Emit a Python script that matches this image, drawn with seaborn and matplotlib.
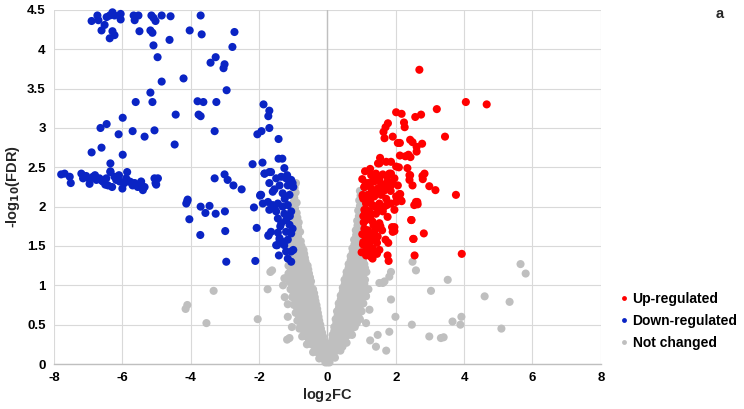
import matplotlib
matplotlib.use("Agg")
import matplotlib.pyplot as plt
import seaborn as sns
import pandas as pd

# ---------------- data ----------------
up_x = [2.69, 4.05, 4.66, 3.20, 2.01, 2.17, 2.57, 2.74, 1.77, 2.24, 2.26, 1.70, 1.64, 1.67, 1.91,
        3.44, 2.06, 2.12, 2.42, 2.49, 2.61, 2.77, 2.61, 1.54, 1.48, 1.72, 1.86, 2.12, 2.28, 2.37,
        2.43, 2.09, 2.34, 1.35, 2.42, 2.84, 2.40, 2.79, 2.49, 2.98, 3.16, 3.76, 3.93, 2.40, 2.78,
        2.11, 2.63, 2.54, 1.86, 2.01, 2.17, 2.45, 1.89, 1.96, 2.82, 2.51, 1.78, 2.55, 1.76, 1.79,
        1.32, 1.96, 1.28, 1.42, 1.62, 1.81, 1.32, 1.52, 1.76, 1.08, 1.28, 1.47, 1.67, 1.86, 1.18,
        1.37, 1.57, 1.72, 1.13, 1.32, 1.52, 1.23, 1.42, 1.62, 1.76, 1.13, 1.32, 1.52, 1.18, 1.37,
        1.13, 1.32, 1.47, 1.13, 1.32, 1.52, 1.13, 1.28, 1.08, 1.08, 1.03, 1.08, 1.03, 1.86, 1.96,
        2.06, 2.01, 2.13, 2.15, 1.74, 2.59, 2.64, 2.46, 1.96, 1.91, 2.52, 1.57, 1.37, 2.01, 1.52,
        1.20, 1.45, 1.65, 1.05, 1.25, 1.40, 1.60, 1.10, 1.22, 1.35, 1.55, 1.15, 1.30, 1.45, 1.05,
        1.20, 1.60, 1.70, 1.85, 1.02, 1.10, 1.25, 1.40, 1.05, 1.18, 1.00, 1.15, 1.28, 1.45, 1.90,
        1.02, 1.04, 1.06, 1.10, 1.12, 1.16, 1.22, 1.26, 1.35, 1.42, 1.50, 1.58, 1.66, 1.75]
up_y = [3.74, 3.33, 3.30, 3.24, 3.20, 3.18, 3.14, 3.17, 3.06, 3.07, 3.01, 3.01, 2.95, 2.87, 2.89,
        2.89, 2.81, 2.81, 2.85, 2.82, 2.76, 2.80, 2.70, 2.62, 2.55, 2.57, 2.57, 2.65, 2.64, 2.66,
        2.63, 2.50, 2.49, 2.40, 2.40, 2.42, 2.34, 2.35, 2.27, 2.26, 2.21, 2.15, 1.40, 2.40, 2.39,
        2.16, 2.06, 2.02, 2.04, 2.06, 2.07, 1.83, 1.74, 1.69, 1.66, 1.59, 1.54, 1.38, 1.38, 1.31,
        1.34, 1.96, 2.40, 2.42, 2.41, 2.42, 2.32, 2.34, 2.32, 2.25, 2.23, 2.23, 2.25, 2.27, 2.15,
        2.13, 2.15, 2.10, 2.04, 2.02, 2.04, 1.94, 1.91, 1.94, 1.87, 1.83, 1.81, 1.79, 1.70, 1.68,
        1.60, 1.58, 1.62, 1.49, 1.47, 1.45, 1.38, 1.36, 1.72, 1.96, 2.15, 2.25, 2.13, 2.42, 2.36,
        2.27, 2.13, 2.16, 2.08, 2.02, 2.06, 2.03, 1.83, 1.74, 1.68, 1.59, 2.29, 2.32, 2.51, 2.55,
        2.30, 2.20, 2.20, 2.10, 2.08, 2.00, 1.98, 1.88, 1.86, 1.76, 1.75, 1.65, 1.64, 1.54, 1.55,
        1.52, 1.70, 1.58, 2.20, 2.35, 2.45, 2.48, 2.38, 1.88, 1.90, 1.42, 1.44, 1.43, 1.40, 2.30,
        1.65, 1.52, 1.80, 1.92, 2.30, 1.95, 1.52, 1.88, 2.18, 1.72, 1.95, 2.18, 2.00, 2.38]

down_x = [-6.90, -6.73, -6.70, -6.61, -6.52, -6.46, -6.37, -6.29, -6.23, -6.29, -6.23, -6.37, -6.05,
          -6.05, -5.67, -5.53, -5.64, -5.50, -5.15, -5.09, -5.03, -5.18, -5.12, -4.85, -4.59, -5.09,
          -4.62, -4.97, -4.85, -5.18, -5.12, -5.61, -4.03, -3.71, -3.68, -4.21, -4.44, -4.47, -5.06,
          -5.35, -5.70, -5.99, -6.11, -6.46, -6.64, -6.61, -6.90, -5.99, -6.35, -6.35, -3.80, -3.63,
          -3.77, -3.71, -3.42, -3.27, -3.01, -3.04, -2.95, -3.25, -3.30, -2.72, -2.78, -3.30, -3.01,
          -2.92, -2.75, -2.51, -4.09, -1.87, -1.70, -1.73, -1.70, -1.93, -2.05, -1.43, -1.43, -1.32,
          -2.19, -1.90, -1.26, -1.84, -1.70, -1.96,
          -7.51, -4.13, -4.10, -4.04, -3.71, -3.57, -3.45, -3.27, -3.00, -2.99, -3.72, -2.96, -2.11,
          -2.07, -2.15, -1.97, -5.01, -1.73, -1.47, -1.40,
          -7.79, -7.69, -7.54, -7.20, -7.15, -7.06, -6.96, -6.86, -6.76, -6.96, -6.67, -6.57, -6.47,
          -6.42, -6.35, -6.30, -6.23, -6.18, -6.08, -6.00, -5.94, -5.89, -5.86, -5.79, -5.64, -5.55,
          -5.45, -5.40, -5.35, -5.06, -4.96, -5.03, -6.80, -6.60, -6.50, -6.10, -5.75, -5.70,
          -1.84, -1.65, -1.50, -1.35, -1.21, -1.06, -1.70, -1.40, -1.16, -1.60, -1.31, -1.11, -1.94,
          -1.89, -1.74, -1.60, -1.45, -1.31, -1.16, -1.06, -1.70, -1.50, -1.26, -1.21, -1.35, -1.11,
          -1.65, -1.72, -1.45, -1.21, -1.06, -1.40, -1.16, -1.50, -1.26, -1.21, -1.06, -1.16, -1.06,
          -1.55, -1.25, -1.45, -1.10, -1.38, -1.02, -1.30, -1.00, -1.55, -1.18, -1.00, -1.42, -1.02]
down_y = [4.36, 4.43, 4.37, 4.24, 4.31, 4.41, 4.43, 4.47, 4.43, 4.23, 4.18, 4.14, 4.45, 4.38, 4.43,
          4.43, 4.37, 4.23, 4.43, 4.40, 4.36, 4.24, 4.21, 4.43, 4.42, 4.05, 4.12, 3.90, 3.59, 3.45,
          3.33, 3.33, 4.24, 4.43, 4.19, 3.63, 3.17, 2.79, 2.97, 2.89, 2.96, 3.13, 2.92, 3.05, 3.00,
          2.75, 2.69, 2.66, 2.55, 2.45, 3.34, 3.33, 3.17, 3.15, 3.83, 3.90, 3.81, 3.76, 3.48, 3.33,
          2.96, 4.22, 4.03, 2.36, 2.41, 2.34, 2.27, 2.22, 2.09, 3.30, 3.22, 3.15, 3.00, 2.96, 2.92,
          2.86, 2.61, 2.61, 2.54, 2.56, 2.49, 2.42, 2.44, 2.15,
          2.30, 2.04, 2.07, 1.84, 2.00, 1.92, 2.01, 1.91, 1.94, 1.69, 1.64, 1.30, 1.31, 1.73, 1.99,
          2.14, 2.28, 1.63, 1.51, 1.60,
          2.41, 2.42, 2.38, 2.42, 2.36, 2.39, 2.35, 2.38, 2.34, 2.29, 2.36, 2.32, 2.36, 2.27, 2.44,
          2.25, 2.38, 2.34, 2.32, 2.23, 2.30, 2.36, 2.44, 2.32, 2.30, 2.25, 2.32, 2.21, 2.25, 2.36,
          2.36, 2.30, 2.40, 2.33, 2.28, 2.40, 2.31, 2.27,
          2.42, 2.44, 2.36, 2.38, 2.36, 2.34, 2.30, 2.27, 2.27, 2.19, 2.17, 2.15, 2.15, 2.04, 2.06,
          2.02, 2.04, 2.00, 2.02, 1.94, 1.96, 1.94, 1.91, 1.83, 1.79, 1.77, 1.68, 1.64, 1.67, 1.68,
          1.66, 1.58, 1.58, 1.51, 1.51, 1.43, 1.43, 1.34, 1.30, 2.22, 2.10, 1.85, 1.88, 1.75, 1.72,
          1.55, 2.25, 1.98, 2.40, 1.45, 1.38, 2.30]

gray_x = [
    # left arm of the V
    -1.00, -0.92, -1.02, -0.93, -1.00, -0.90, -1.02, -0.90, -1.03, -0.92, -0.84,
    -1.05, -0.93, -0.80, -1.06, -0.93, -0.78, -1.08, -0.95, -0.82, -0.70,
    -1.10, -0.97, -0.84, -0.66, -1.14, -1.00, -0.86, -0.72, -0.58,
    -1.14, -1.00, -0.86, -0.72, -0.54, -1.12, -0.98, -0.84, -0.70, -0.56, -0.48,
    -1.08, -0.94, -0.80, -0.66, -0.52, -0.42, -1.03, -0.90, -0.76, -0.62, -0.48, -0.37,
    -0.98, -0.85, -0.72, -0.58, -0.45, -0.32, -0.93, -0.80, -0.66, -0.53, -0.40, -0.28,
    -0.88, -0.75, -0.62, -0.48, -0.35, -0.24, -0.82, -0.69, -0.56, -0.43, -0.30, -0.19,
    -0.74, -0.61, -0.48, -0.35, -0.23, -0.13, -0.60, -0.47, -0.34, -0.22, -0.11,
    -0.42, -0.30, -0.18, -0.08, -0.24, -0.13, -0.05, -0.06, 0.00, 0.06,
    # left arm, in-between rows
    -0.96, -0.97, -0.95, -0.97, -0.88, -0.99, -0.86, -1.00, -0.86, -1.02, -0.88, -0.76,
    -1.04, -0.90, -0.76, -0.68, -1.07, -0.93, -0.79, -0.64, -1.07, -0.93, -0.79, -0.65, -0.56,
    -1.05, -0.91, -0.77, -0.63, -0.51, -1.03, -0.89, -0.75, -0.61, -0.50,
    -0.99, -0.85, -0.71, -0.57, -0.45, -0.39, -0.94, -0.80, -0.66, -0.53, -0.40, -0.35,
    -0.88, -0.75, -0.61, -0.48, -0.35, -0.30, -0.83, -0.70, -0.57, -0.43, -0.30, -0.26,
    -0.77, -0.64, -0.51, -0.38, -0.25, -0.21, -0.68, -0.55, -0.42, -0.29, -0.16,
    -0.54, -0.41, -0.28, -0.17, -0.12, -0.36, -0.24, -0.13, -0.09, -0.18, -0.09,
    # right arm of the V
    0.95, 1.03, 0.93, 1.00, 0.90, 0.98, 0.87, 0.96, 0.83, 0.93, 0.78, 0.90, 1.00,
    0.73, 0.85, 0.97, 0.68, 0.80, 0.92, 1.02, 0.62, 0.74, 0.86, 0.98, 1.08,
    0.56, 0.68, 0.80, 0.92, 1.04, 1.14, 0.50, 0.62, 0.74, 0.86, 0.98, 1.10,
    0.45, 0.57, 0.69, 0.81, 0.93, 1.05, 0.39, 0.51, 0.63, 0.75, 0.87, 0.99, 1.12,
    0.33, 0.45, 0.57, 0.69, 0.81, 0.93, 1.05, 0.28, 0.40, 0.52, 0.64, 0.76, 0.88, 1.00,
    0.24, 0.36, 0.48, 0.60, 0.72, 0.84, 0.95, 0.20, 0.32, 0.44, 0.56, 0.68, 0.80,
    0.15, 0.26, 0.38, 0.50, 0.62, 0.72, 0.10, 0.21, 0.33, 0.45, 0.56,
    0.06, 0.16, 0.27, 0.38, 0.03, 0.12, 0.22,
    # right arm, in-between rows
    0.97, 0.95, 0.92, 0.88, 0.97, 0.84, 0.95, 0.79, 0.91, 0.74, 0.86, 0.98,
    0.68, 0.80, 0.92, 1.04, 0.62, 0.74, 0.86, 0.98, 1.10, 0.56, 0.68, 0.80, 0.92, 1.04,
    0.51, 0.63, 0.75, 0.87, 0.99, 1.08, 0.45, 0.57, 0.69, 0.81, 0.93, 1.05,
    0.39, 0.51, 0.63, 0.75, 0.87, 0.99, 0.34, 0.46, 0.58, 0.70, 0.82, 0.94,
    0.30, 0.42, 0.54, 0.66, 0.78, 0.90, 0.26, 0.38, 0.50, 0.62, 0.74, 0.86,
    0.20, 0.32, 0.44, 0.56, 0.67, 0.15, 0.27, 0.39, 0.51, 0.10, 0.21, 0.32, 0.44, 0.07, 0.17,
    # scattered left
    -1.62, -1.67, -1.26, -1.21, -1.75, -3.33, -4.10, -4.15, -3.54, -2.04, -1.16, -1.16,
    -1.18, -1.11, -1.04, -1.30, -1.25,
    # scattered right
    1.13, 1.23, 1.13, 1.62, 1.67, 1.81, 1.86, 1.52, 1.86, 1.99, 2.47, 1.81, 1.47, 1.42,
    1.72, 2.49, 2.59, 3.03, 3.52, 5.65, 5.80, 4.60, 5.33, 3.92, 3.66, 3.89, 5.09, 2.98,
    3.32, 3.40, 1.20, 1.25]
gray_y = [
    2.30, 2.30, 2.18, 2.18, 2.05, 2.05, 1.92, 1.92, 1.80, 1.80, 1.80,
    1.68, 1.68, 1.68, 1.56, 1.56, 1.56, 1.45, 1.45, 1.45, 1.45,
    1.35, 1.35, 1.35, 1.35, 1.25, 1.25, 1.25, 1.25, 1.25,
    1.15, 1.15, 1.15, 1.15, 1.15, 1.05, 1.05, 1.05, 1.05, 1.05, 1.05,
    0.95, 0.95, 0.95, 0.95, 0.95, 0.95, 0.85, 0.85, 0.85, 0.85, 0.85, 0.85,
    0.75, 0.75, 0.75, 0.75, 0.75, 0.75, 0.65, 0.65, 0.65, 0.65, 0.65, 0.65,
    0.55, 0.55, 0.55, 0.55, 0.55, 0.55, 0.45, 0.45, 0.45, 0.45, 0.45, 0.45,
    0.35, 0.35, 0.35, 0.35, 0.35, 0.35, 0.25, 0.25, 0.25, 0.25, 0.25,
    0.15, 0.15, 0.15, 0.15, 0.07, 0.07, 0.07, 0.02, 0.02, 0.02,
    2.24, 2.11, 1.98, 1.86, 1.86, 1.74, 1.74, 1.62, 1.62, 1.50, 1.50, 1.50,
    1.40, 1.40, 1.40, 1.40, 1.30, 1.30, 1.30, 1.30, 1.20, 1.20, 1.20, 1.20, 1.20,
    1.10, 1.10, 1.10, 1.10, 1.10, 1.00, 1.00, 1.00, 1.00, 1.00,
    0.90, 0.90, 0.90, 0.90, 0.90, 0.90, 0.80, 0.80, 0.80, 0.80, 0.80, 0.80,
    0.70, 0.70, 0.70, 0.70, 0.70, 0.70, 0.60, 0.60, 0.60, 0.60, 0.60, 0.60,
    0.50, 0.50, 0.50, 0.50, 0.50, 0.50, 0.40, 0.40, 0.40, 0.40, 0.40,
    0.30, 0.30, 0.30, 0.30, 0.30, 0.20, 0.20, 0.20, 0.20, 0.11, 0.11,
    2.20, 2.20, 2.08, 2.08, 1.95, 1.95, 1.82, 1.82, 1.70, 1.70, 1.58, 1.58, 1.58,
    1.47, 1.47, 1.47, 1.37, 1.37, 1.37, 1.37, 1.27, 1.27, 1.27, 1.27, 1.27,
    1.17, 1.17, 1.17, 1.17, 1.17, 1.17, 1.07, 1.07, 1.07, 1.07, 1.07, 1.07,
    0.97, 0.97, 0.97, 0.97, 0.97, 0.97, 0.87, 0.87, 0.87, 0.87, 0.87, 0.87, 0.87,
    0.77, 0.77, 0.77, 0.77, 0.77, 0.77, 0.77, 0.67, 0.67, 0.67, 0.67, 0.67, 0.67, 0.67,
    0.57, 0.57, 0.57, 0.57, 0.57, 0.57, 0.57, 0.47, 0.47, 0.47, 0.47, 0.47, 0.47,
    0.37, 0.37, 0.37, 0.37, 0.37, 0.37, 0.27, 0.27, 0.27, 0.27, 0.27,
    0.17, 0.17, 0.17, 0.17, 0.08, 0.08, 0.08,
    2.14, 2.01, 1.88, 1.76, 1.76, 1.64, 1.64, 1.52, 1.52, 1.42, 1.42, 1.42,
    1.32, 1.32, 1.32, 1.32, 1.22, 1.22, 1.22, 1.22, 1.22, 1.12, 1.12, 1.12, 1.12, 1.12,
    1.02, 1.02, 1.02, 1.02, 1.02, 1.02, 0.92, 0.92, 0.92, 0.92, 0.92, 0.92,
    0.82, 0.82, 0.82, 0.82, 0.82, 0.82, 0.72, 0.72, 0.72, 0.72, 0.72, 0.72,
    0.62, 0.62, 0.62, 0.62, 0.62, 0.62, 0.52, 0.52, 0.52, 0.52, 0.52, 0.52,
    0.42, 0.42, 0.42, 0.42, 0.42, 0.32, 0.32, 0.32, 0.32, 0.22, 0.22, 0.22, 0.22, 0.12, 0.12,
    1.19, 1.17, 1.09, 1.09, 0.95, 0.93, 0.75, 0.70, 0.52, 0.57, 0.76, 0.60,
    0.31, 0.33, 0.47, 1.00, 0.85,
    0.86, 0.69, 0.52, 1.03, 1.05, 1.11, 1.17, 1.03, 0.82, 0.60, 0.50, 0.41, 0.37, 0.22,
    0.17, 1.30, 1.19, 0.93, 1.07, 1.27, 1.15, 0.86, 0.79, 0.60, 0.54, 0.50, 0.45, 0.35,
    0.33, 0.34, 0.95, 0.30]

categories = ["Up-regulated", "Down-regulated", "Not changed"]
x_ticks = [-8, -6, -4, -2, 0, 2, 4, 6, 8]
y_ticks = [0, 0.5, 1, 1.5, 2, 2.5, 3, 3.5, 4, 4.5]
y_tick_labels = ["0", "0.5", "1", "1.5", "2", "2.5", "3", "3.5", "4", "4.5"]

# ---------------- build frame ----------------
df = pd.concat([
    pd.DataFrame({"log2FC": gray_x, "lfdr": gray_y, "status": "Not changed"}),
    pd.DataFrame({"log2FC": down_x, "lfdr": down_y, "status": "Down-regulated"}),
    pd.DataFrame({"log2FC": up_x, "lfdr": up_y, "status": "Up-regulated"}),
], ignore_index=True)

palette = {"Up-regulated": "#ff0000", "Down-regulated": "#0a24c4", "Not changed": "#bfbfbf"}

sns.set_theme(style="white")
plt.rcParams["font.family"] = ["Liberation Sans", "DejaVu Sans"]
plt.rcParams["font.weight"] = "bold"
plt.rcParams["axes.unicode_minus"] = False

fig = plt.figure(figsize=(7.44, 4.09), dpi=100)
ax = fig.add_axes([0.0726, 0.110, 0.735, 0.8656])

sns.scatterplot(data=df, x="log2FC", y="lfdr", hue="status", hue_order=categories,
                palette=palette, s=34, edgecolor="none", linewidth=0, ax=ax,
                clip_on=False, zorder=3)

ax.set_xlim(-8, 8)
ax.set_ylim(0, 4.5)
ax.set_xticks(x_ticks)
ax.set_yticks(y_ticks)
ax.set_yticklabels(y_tick_labels)
ax.grid(True, color="#d9d9d9", linewidth=0.8, zorder=0)
ax.set_axisbelow(True)
ax.axvline(0, color="#bfbfbf", linewidth=1.0, zorder=1)
for side in ["top", "right", "left"]:
    ax.spines[side].set_visible(False)
ax.spines["bottom"].set_color("#bfbfbf")
ax.spines["bottom"].set_linewidth(1.0)
ax.tick_params(axis="both", length=0, labelsize=9.5, pad=6)
for lab in ax.get_xticklabels() + ax.get_yticklabels():
    lab.set_fontweight("bold")
    lab.set_color("#000000")

ax.set_xlabel("log$_\\mathbf{2}$FC", fontsize=10.5, fontweight="bold", labelpad=1)
ax.set_ylabel("-log$_\\mathbf{10}$(FDR)", fontsize=10.5, fontweight="bold")
ax.yaxis.set_label_coords(-0.058, 0.5)

leg = ax.legend(loc="upper left", bbox_to_anchor=(1.02, 0.22), frameon=False,
                handletextpad=0.1, labelspacing=0.6, markerscale=0.6,
                prop={"weight": "bold", "size": 10}, borderaxespad=0, handlelength=1.0)
for t in leg.get_texts():
    t.set_color("#000000")

fig.text(0.967, 0.965, "a", fontsize=10.5, fontweight="bold", ha="center", va="center")

fig.savefig("out.png", dpi=100)
